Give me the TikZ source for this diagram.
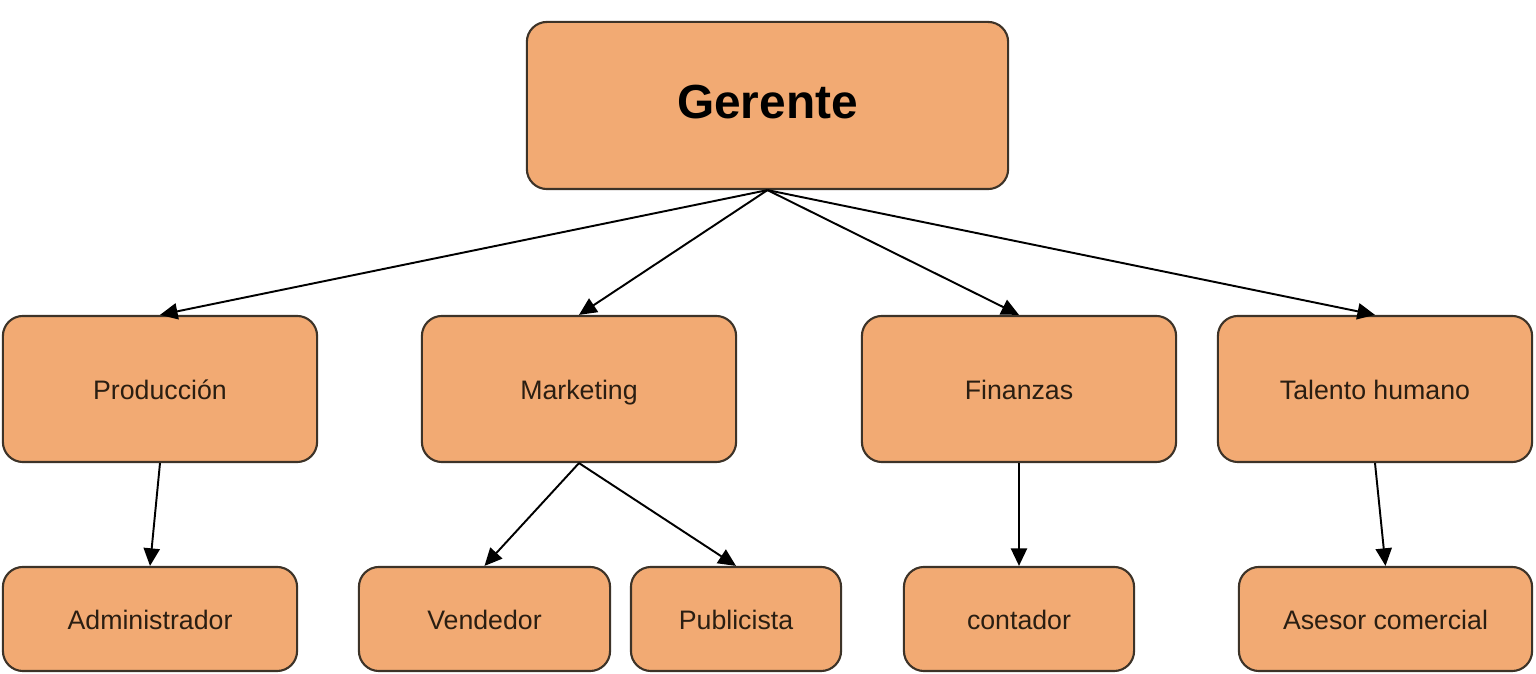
\documentclass[tikz,border=0pt]{standalone}
\usepackage{fontspec}
\setmainfont{Liberation Sans}
\usetikzlibrary{arrows.meta}
\definecolor{boxfill}{HTML}{F2AA73}
\definecolor{boxline}{HTML}{3D3328}
\definecolor{boxtext}{HTML}{2A1E12}
\tikzset{
  box/.style={draw=boxline, fill=boxfill, line width=0.6pt, rounded corners=0.2cm,
    inner sep=0pt, align=center, text=boxtext, text height=1.6ex, text depth=0.45ex,
    font=\fontsize{7.6pt}{9pt}\selectfont},
  topbox/.style={box, text=black, text height=1.38ex, text depth=0pt,
    font=\fontsize{13.6pt}{16pt}\selectfont\bfseries},
  link/.style={draw=black, line width=0.55pt, -{Triangle[length=5pt,width=4.6pt]}}
}
\begin{document}
\begin{tikzpicture}[x=0.01cm, y=-0.01cm]
\useasboundingbox (0,0) rectangle (1536,674);
\node[topbox, minimum width=4.81cm, minimum height=1.67cm] (ger) at (767.5,105.5) {Gerente};
\node[box, minimum width=3.14cm, minimum height=1.46cm] (prod) at (160,389) {Producción};
\node[box, minimum width=3.14cm, minimum height=1.46cm] (mark) at (579,389) {Marketing};
\node[box, minimum width=3.14cm, minimum height=1.46cm] (fin) at (1019,389) {Finanzas};
\node[box, minimum width=3.14cm, minimum height=1.46cm] (tal) at (1375,389) {Talento humano};
\node[box, minimum width=2.94cm, minimum height=1.04cm] (adm) at (150,619) {Administrador};
\node[box, minimum width=2.51cm, minimum height=1.04cm] (ven) at (484.5,619) {Vendedor};
\node[box, minimum width=2.10cm, minimum height=1.04cm] (pub) at (736,619) {Publicista};
\node[box, minimum width=2.30cm, minimum height=1.04cm] (con) at (1019,619) {contador};
\node[box, minimum width=2.93cm, minimum height=1.04cm] (ase) at (1385.5,619) {Asesor comercial};
\draw[link] (ger.south) -- (prod.north);
\draw[link] (ger.south) -- (mark.north);
\draw[link] (ger.south) -- (fin.north);
\draw[link] (ger.south) -- (tal.north);
\draw[link] (prod.south) -- (adm.north);
\draw[link] (mark.south) -- (ven.north);
\draw[link] (mark.south) -- (pub.north);
\draw[link] (fin.south) -- (con.north);
\draw[link] (tal.south) -- (ase.north);
\end{tikzpicture}
\end{document}
